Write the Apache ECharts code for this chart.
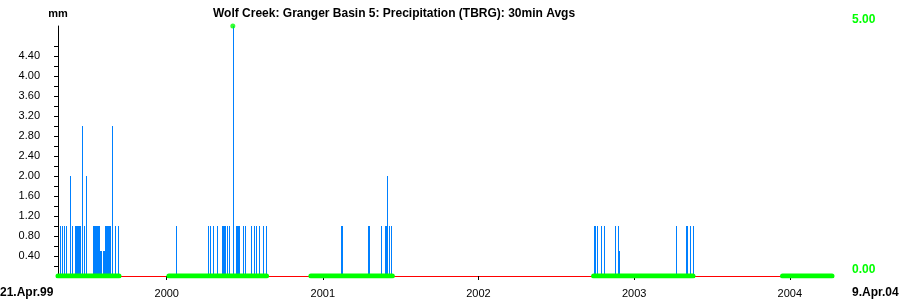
<!DOCTYPE html>
<html>
<head>
<meta charset="utf-8">
<script src="https://cdn.jsdelivr.net/npm/echarts@6/dist/echarts.min.js"></script>
<style>
html,body{margin:0;padding:0;background:#fff;}
#c{width:909px;height:301px;}
</style>
</head>
<body>
<div id="c"></div>
<script>
// ---- data ----
const titleText = 'Wolf Creek: Granger Basin 5: Precipitation (TBRG): 30min Avgs';
const unitLabel = 'mm';
const rangeStart = '1999-04-21';
const rangeEnd = '2004-04-09';
const edgeLabels = ['21.Apr.99', '9.Apr.04'];
const yearTicks = ['2000-01-01', '2001-01-01', '2002-01-01', '2003-01-01', '2004-01-01'];
const leftTickValues = [0.2,0.4,0.6,0.8,1.0,1.2,1.4,1.6,1.8,2.0,2.2,2.4,2.6,2.8,3.0,3.2,3.4,3.6,3.8,4.0,4.2,4.4,4.6];
const leftLabelValues = [0.4,0.8,1.2,1.6,2.0,2.4,2.8,3.2,3.6,4.0,4.4];
const rightLabelValues = [0, 5];

const barDates = [
  '1999-04-26','1999-04-30','1999-05-05','1999-05-10','1999-05-19','1999-05-24',
  '1999-05-31','1999-06-02','1999-06-05','1999-06-07','1999-06-09','1999-06-12',
  '1999-06-16','1999-06-21','1999-06-26',
  '1999-07-12','1999-07-14','1999-07-17','1999-07-19','1999-07-21','1999-07-24','1999-07-26',
  '1999-07-28','1999-07-31','1999-08-05','1999-08-07',
  '1999-08-09','1999-08-12','1999-08-14','1999-08-16','1999-08-19','1999-08-21',
  '1999-08-26','1999-09-02','1999-09-09',
  '2000-01-23','2000-04-07','2000-04-11','2000-04-18','2000-04-28',
  '2000-05-10','2000-05-12','2000-05-14','2000-05-17','2000-05-21','2000-05-26',
  '2000-06-04','2000-06-11','2000-06-14','2000-06-16','2000-06-18','2000-06-28',
  '2000-07-03','2000-07-17','2000-07-24','2000-07-28','2000-08-04','2000-08-14','2000-08-21',
  '2001-02-13','2001-02-15','2001-04-17','2001-04-19','2001-05-17','2001-05-27',
  '2001-05-29','2001-06-01','2001-06-05','2001-06-10',
  '2002-09-29','2002-10-01','2002-10-06','2002-10-15','2002-10-22','2002-11-17',
  '2002-11-24','2002-11-27',
  '2003-04-09','2003-05-03','2003-05-05','2003-05-12','2003-05-19'
];
const barValues = [
  1,1,1,1,2,1,
  1,1,1,1,1,1,
  3,1,2,
  1,1,1,1,1,1,1,
  0.5,0.5,0.5,0.5,
  1,1,1,1,1,1,
  3,1,1,
  1,1,1,1,1,
  1,1,1,1,1,1,
  5,1,1,1,1,1,
  1,1,1,1,1,1,1,
  1,1,1,1,1,1,
  1,2,1,1,
  1,1,1,1,1,1,
  1,0.5,
  1,1,1,1,1
];
// periods with data (green baseline)
const coverageStarts = ['1999-04-21','2000-01-06','2000-12-04','2002-09-28','2003-12-15'];
const coverageEnds   = ['1999-09-11','2000-08-22','2001-06-13','2003-05-19','2004-04-09'];

// ---- build ----
const FONT = 'Liberation Sans';
const ts = s => { const p = s.split('-').map(Number); return new Date(p[0], p[1] - 1, p[2]).getTime(); };
const barData = barDates.map((d, i) => [ts(d), barValues[i]]);
const coverData = [];
coverageStarts.forEach((s, i) => {
  if (i > 0) coverData.push([ (ts(coverageEnds[i-1]) + ts(s)) / 2, null ]);
  coverData.push([ts(s), 0]);
  coverData.push([ts(coverageEnds[i]), 0]);
});
let maxIdx = 0;
barValues.forEach((v, i) => { if (v > barValues[maxIdx]) maxIdx = i; });

const chart = echarts.init(document.getElementById('c'), null, {renderer: 'canvas'});
chart.setOption({
  animation: false,
  backgroundColor: '#ffffff',
  textStyle: {fontFamily: FONT},
  title: {
    text: titleText, left: 208, top: 3,
    textStyle: {fontFamily: FONT, fontSize: 12, fontWeight: 'bold', color: '#000'}
  },
  grid: {left: 58, right: 77, top: 26, bottom: 25, containLabel: false},
  xAxis: {
    type: 'value',
    min: ts(rangeStart), max: ts(rangeEnd),
    axisLine: {show: true, lineStyle: {color: '#ff0000', width: 1}},
    axisTick: {show: true, length: 4, lineStyle: {color: '#000'}, customValues: yearTicks.map(ts)},
    axisLabel: {
      customValues: yearTicks.map(ts),
      formatter: v => String(new Date(v).getFullYear()),
      color: '#000', fontSize: 11, fontFamily: FONT, margin: 12
    },
    splitLine: {show: false}
  },
  yAxis: [{
    type: 'value', min: 0, max: 5, position: 'left',
    name: unitLabel, nameLocation: 'end', nameGap: 7,
    nameTextStyle: {fontFamily: FONT, fontSize: 11, fontWeight: 'bold', color: '#000', align: 'center'},
    axisLine: {show: true, lineStyle: {color: '#000', width: 1}},
    axisTick: {show: true, length: 4, lineStyle: {color: '#000'}, customValues: leftTickValues},
    axisLabel: {
      customValues: leftLabelValues,
      formatter: v => v.toFixed(2),
      color: '#000', fontSize: 11, fontFamily: FONT, margin: 18
    },
    splitLine: {show: false}
  }, {
    type: 'value', min: 0, max: 5, position: 'right',
    axisLine: {show: false}, axisTick: {show: false},
    axisLabel: {
      customValues: rightLabelValues,
      formatter: v => v.toFixed(2),
      color: '#00ff00', fontSize: 12, fontWeight: 'bold', fontFamily: FONT,
      margin: 20, verticalAlign: 'bottom'
    },
    splitLine: {show: false}
  }],
  series: [{
    type: 'custom',
    data: barData,
    encode: {x: 0, y: 1},
    clip: false,
    renderItem: function (params, api) {
      const p0 = api.coord([api.value(0), 0]);
      const p1 = api.coord([api.value(0), api.value(1)]);
      const x = Math.round(p0[0]) + 0.5;
      return {
        type: 'line',
        shape: {x1: x, y1: Math.round(p0[1]), x2: x, y2: Math.round(p1[1])},
        style: {stroke: '#0080ff', lineWidth: 1}
      };
    },
    z: 2
  }, {
    type: 'line',
    yAxisIndex: 1,
    data: coverData,
    showSymbol: false,
    symbol: 'none',
    connectNulls: false,
    lineStyle: {color: '#00ff00', width: 5, cap: 'round'},
    z: 3
  }, {
    type: 'scatter',
    data: [barData[maxIdx]],
    symbol: 'circle',
    symbolSize: 5,
    itemStyle: {color: '#00ff00'},
    z: 4
  }],
  graphic: [{
    type: 'text', left: 0, top: 287,
    style: {text: edgeLabels[0], font: 'bold 12px "Liberation Sans"', fill: '#000'}
  }, {
    type: 'text', left: 852, top: 287,
    style: {text: edgeLabels[1], font: 'bold 12px "Liberation Sans"', fill: '#000'}
  }]
});
</script>
</body>
</html>
